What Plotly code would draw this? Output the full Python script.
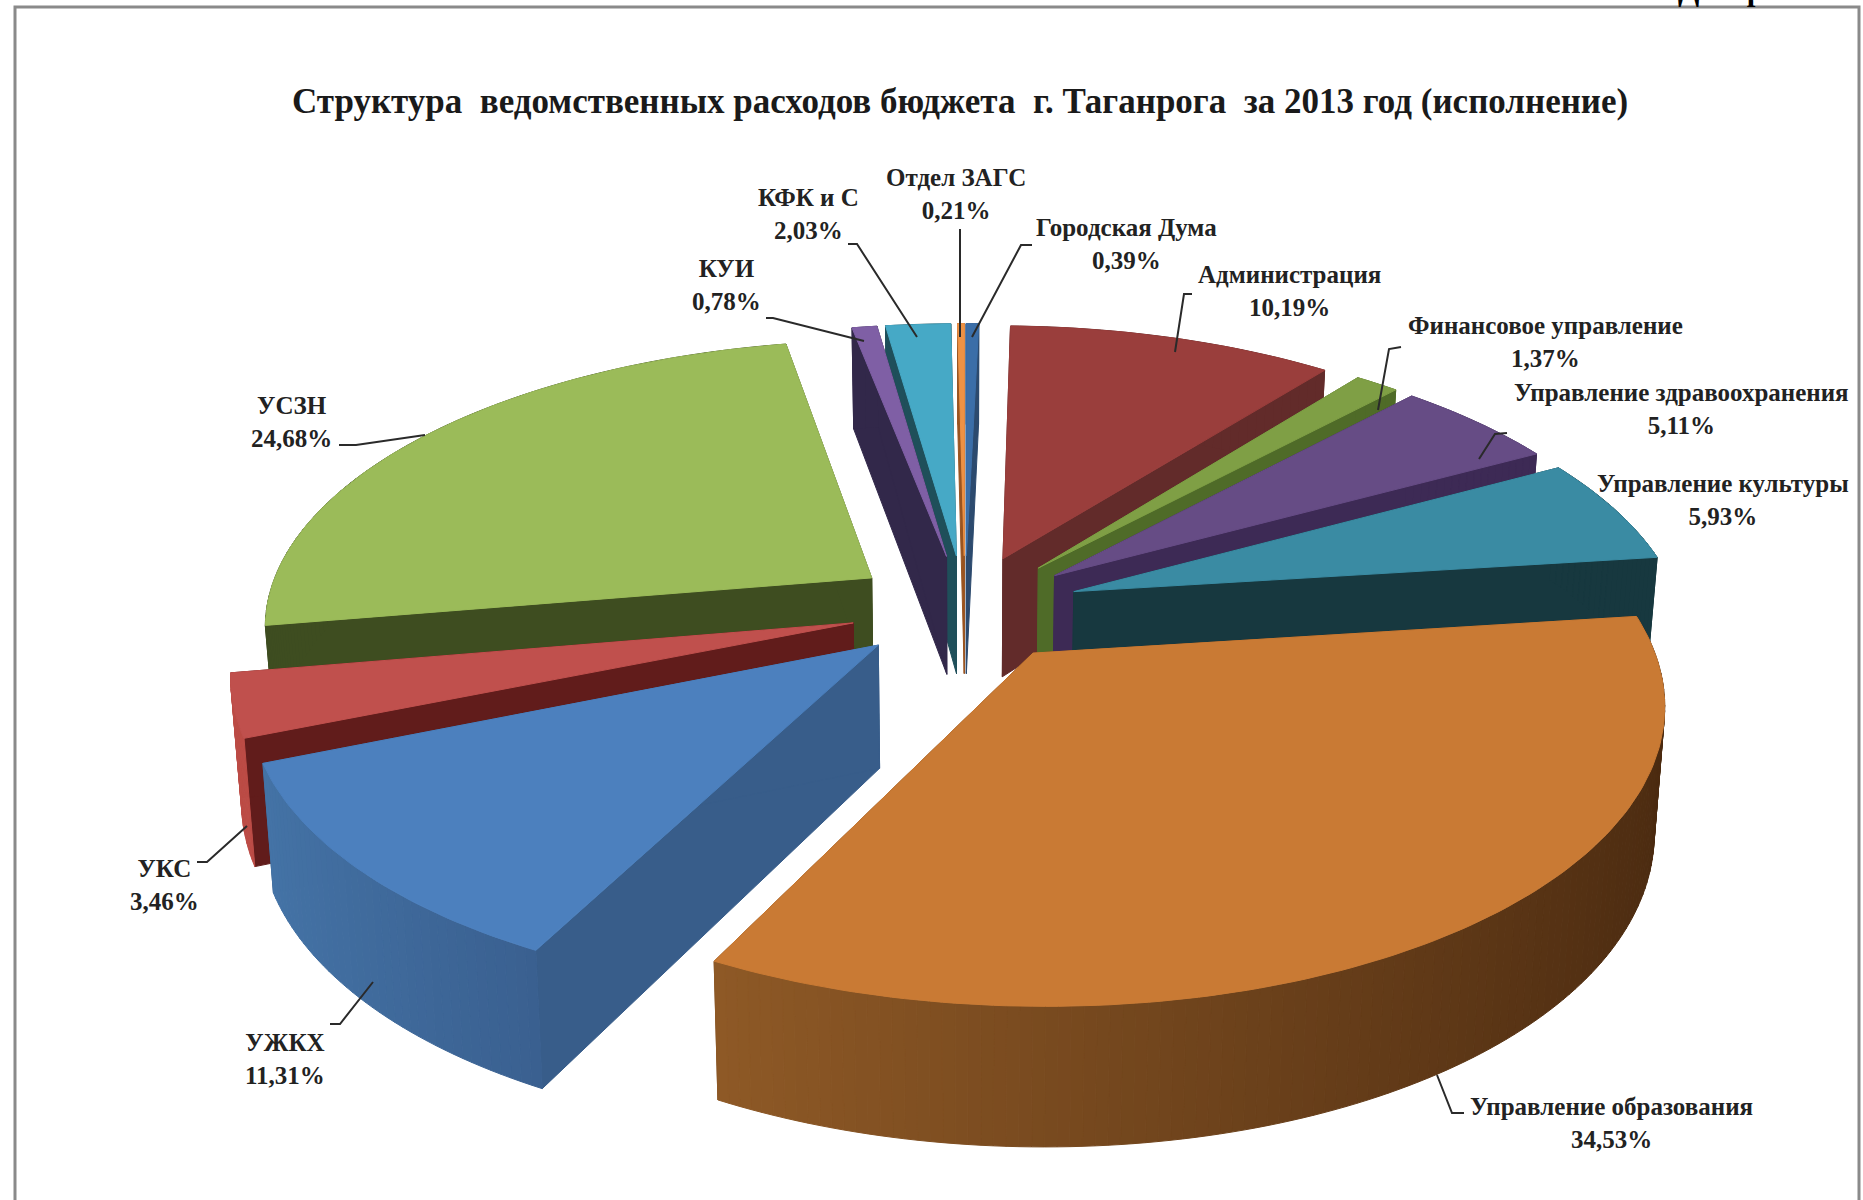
import math
import plotly.graph_objects as go

# ---- data -------------------------------------------------------------
labels = ["Городская Дума", "Администрация", "Финансовое управление",
          "Управление здравоохранения", "Управление культуры",
          "Управление образования", "УЖКХ", "УКС", "УСЗН", "КУИ", "КФК и С", "Отдел ЗАГС"]
values = [0.39, 10.19, 1.37, 5.11, 5.93, 34.53, 11.31, 3.46, 24.68, 0.78, 2.03, 0.21]
title_text = "Структура\u00a0 ведомственных расходов бюджета\u00a0 г. Таганрога\u00a0 за 2013 год (исполнение)"

# ---- styles ------------------------------------------------------------
top_colors = ["#3B6EA8", "#9A3E3C", "#7F9F45", "#664C85", "#3A8BA3", "#C97A34",
              "#4C80BE", "#C0504D", "#9BBB59", "#7F5FA5", "#46A9C6", "#EE9245"]
wall_colors = ["#2C4A6E", "#622B2A", "#4F6B28", "#3D2A55", "#17383F", "#7C4A1E",
               "#385D8A", "#611C1B", "#3E4D20", "#32284A", "#1F4F5A", "#9A5420"]
rim_left = ["#2C4A6E", "#622B2A", "#4F6B28", "#3D2A55", "#17383F", "#8E5926",
            "#4473A6", "#BC4C46", "#3E4D20", "#32284A", "#1F4F5A", "#9A5420"]
rim_right = ["#2C4A6E", "#622B2A", "#4F6B28", "#3D2A55", "#17383F", "#4A2A10",
             "#3A6090", "#BC4C46", "#3E4D20", "#32284A", "#1F4F5A", "#9A5420"]
pull = [0.19] * 12

CX, CY, RX, RY, P, DEPTH = 965, 608, 607, 283, 0.155, 121
label_pos = [(1126, 244), (1289, 291), (1545, 342), (1681, 409), (1723, 500), (1611, 1123),
             (285, 1059), (164, 885), (291, 422), (726, 285), (808, 214), (956, 194)]
leaders = {0: [(1032, 245), (1021, 245), (972, 337)],
           1: [(1192, 294), (1184, 294), (1175, 352)],
           2: [(1401, 347), (1389, 349), (1378, 410)],
           3: [(1507, 433), (1495, 434), (1479, 459)],
           5: [(1464, 1113), (1452, 1113), (1437, 1075)],
           6: [(330, 1024), (340, 1024), (373, 982)],
           7: [(197, 862), (207, 862), (247, 826)],
           8: [(339, 445), (356, 445), (425, 435)],
           9: [(766, 318), (773, 318), (864, 341)],
           10: [(848, 244), (857, 244), (917, 337)],
           11: [(960, 229), (960, 337)]}


def proj(X, Y, low=False):
    w = 1 + P * Y
    sx = CX + RX * X / w
    sy = CY - RY * Y / w
    if low:
        sx = CX + (sx - CX) * 0.985
        sy += DEPTH * (1 - 0.14 * Y)
    return sx, sy


def mix(a, b, t):
    ca = [int(a[i:i + 2], 16) for i in (1, 3, 5)]
    cb = [int(b[i:i + 2], 16) for i in (1, 3, 5)]
    return "rgb(%d,%d,%d)" % tuple(round(x + (y - x) * t) for x, y in zip(ca, cb))


fig = go.Figure()


def poly(points, color):
    fig.add_trace(go.Scatter(x=[p[0] for p in points] + [points[0][0]],
                             y=[p[1] for p in points] + [points[0][1]],
                             mode="lines", fill="toself", fillcolor=color,
                             line=dict(color=color, width=1),
                             hoverinfo="skip", showlegend=False))


total = sum(values)
slices = []
acc = 0.0
for i, v in enumerate(values):
    a0 = acc / total * 2 * math.pi
    acc += v
    a1 = acc / total * 2 * math.pi
    slices.append((i, a0, a1))


def midY(s):
    return math.cos((s[1] + s[2]) / 2)


for i, a0, a1 in sorted(slices, key=midY, reverse=True):
    mid = (a0 + a1) / 2
    ox, oy = pull[i] * math.sin(mid), pull[i] * math.cos(mid)
    n = max(2, int((a1 - a0) / math.radians(1)))
    angs = [a0 + (a1 - a0) * k / n for k in range(n + 1)]
    rim = [(ox + math.sin(a), oy + math.cos(a)) for a in angs]
    xmin = min(p[0] for p in rim)
    xmax = max(p[0] for p in rim)
    # radial walls
    for (X, Y) in (rim[0], rim[-1]):
        poly([proj(ox, oy), proj(X, Y), proj(X, Y, True), proj(ox, oy, True)], wall_colors[i])
    # outer rim, shaded by horizontal position inside the slice
    for k in range(n):
        A, B = rim[k], rim[k + 1]
        t = ((A[0] + B[0]) / 2 - xmin) / (xmax - xmin)
        poly([proj(*A), proj(*B), proj(*B, True), proj(*A, True)], mix(rim_left[i], rim_right[i], t))
    # top face
    poly([proj(ox, oy)] + [proj(*p) for p in rim], top_colors[i])

for pts in leaders.values():
    fig.add_trace(go.Scatter(x=[p[0] for p in pts], y=[p[1] for p in pts], mode="lines",
                             line=dict(color="#2A2A2A", width=2),
                             hoverinfo="skip", showlegend=False))

for i, (lx, ly) in enumerate(label_pos):
    pct = f"{values[i]:.2f}".replace(".", ",") + "%"
    fig.add_annotation(x=lx, y=ly, text=f"<b>{labels[i]}<br>{pct}</b>", showarrow=False,
                       xanchor="center", yanchor="middle", align="center",
                       font=dict(family="Liberation Serif", size=25, color="#222222"))

fig.add_annotation(x=960, y=101, text=f"<b>{title_text}</b>", showarrow=False, xanchor="center", yanchor="middle",
                   font=dict(family="Liberation Serif", size=35, color="#1a1a1a"))
fig.add_annotation(x=1758, xref="x", y=1.009, yref="paper", text="<b>Диаграмма</b>", showarrow=False,
                   xanchor="center", yanchor="middle",
                   font=dict(family="Liberation Serif", size=31, color="#000000"))

fig.update_layout(
    width=1863, height=1200, autosize=False,
    margin=dict(l=0, r=0, t=0, b=0),
    paper_bgcolor="white", plot_bgcolor="white", showlegend=False,
    xaxis=dict(range=[0, 1863], visible=False, fixedrange=True),
    yaxis=dict(range=[1200, 0], visible=False, fixedrange=True),
    shapes=[dict(type="rect", xref="x", yref="y", x0=15, y0=7, x1=1859, y1=1230,
                 line=dict(color="#8A8A8A", width=3), layer="below")],
)
fig.write_html("out.html", config={"displayModeBar": False},
               post_script="document.body.style.margin='0';document.documentElement.style.overflow='hidden';")
